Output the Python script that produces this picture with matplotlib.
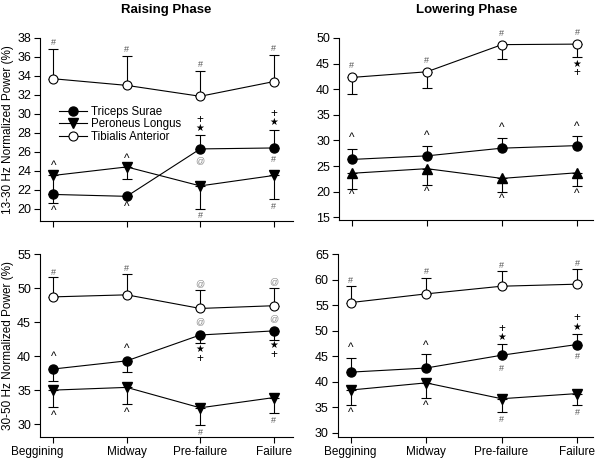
import numpy as np
import matplotlib
matplotlib.use("Agg")
from matplotlib import pyplot as plt
from matplotlib.transforms import ScaledTranslation

plt.rcParams['font.family'] = ['Liberation Sans', 'DejaVu Sans']

phases = ["Beggining", "Midway", "Pre-failure", "Failure"]
x = np.arange(len(phases))

# 13-30 Hz, raising phase
ts_a = [21.5, 21.3, 26.3, 26.4]
ts_a_lo = [0, 0, 0, 0]
ts_a_hi = [0, 0, 1.5, 1.9]
pl_a = [23.5, 24.4, 22.4, 23.5]
pl_a_lo = [2.9, 1.3, 2.4, 2.5]
pl_a_hi = [0, 0, 0, 0]
ta_a = [33.7, 33.0, 31.85, 33.4]
ta_a_lo = [0, 0, 0, 0]
ta_a_hi = [3.1, 3.1, 2.65, 2.8]

# 13-30 Hz, lowering phase
ts_b = [26.3, 27.0, 28.5, 29.0]
ts_b_lo = [0, 0, 0, 0]
ts_b_hi = [2.1, 1.9, 1.9, 1.8]
pl_b = [23.6, 24.5, 22.6, 23.7]
pl_b_lo = [3.0, 3.1, 2.6, 2.6]
pl_b_hi = [0, 0, 0, 0]
ta_b = [42.3, 43.4, 48.7, 48.8]
ta_b_lo = [3.3, 3.1, 2.9, 2.6]
ta_b_hi = [0, 0, 0, 0]

# 30-50 Hz, raising phase
ts_c = [38.1, 39.3, 43.1, 43.7]
ts_c_lo = [1.7, 1.7, 1.2, 1.3]
ts_c_hi = [0, 0, 0, 0]
pl_c = [35.0, 35.4, 32.4, 33.9]
pl_c_lo = [2.5, 2.5, 2.5, 2.3]
pl_c_hi = [0, 0, 0, 0]
ta_c = [48.7, 49.0, 47.0, 47.4]
ta_c_lo = [0, 0, 0, 0]
ta_c_hi = [2.9, 3.1, 2.7, 2.6]

# 30-50 Hz, lowering phase
ts_d = [41.9, 42.7, 45.2, 47.3]
ts_d_lo = [0, 0, 0, 0]
ts_d_hi = [2.8, 2.7, 2.2, 2.1]
pl_d = [38.4, 39.8, 36.7, 37.7]
pl_d_lo = [2.9, 2.9, 2.5, 2.2]
pl_d_hi = [0, 0, 0, 0]
ta_d = [55.5, 57.2, 58.7, 59.1]
ta_d_lo = [0, 0, 0, 0]
ta_d_hi = [3.2, 3.1, 3.0, 3.0]

# significance marks: (x index, y, symbol)
marks_a = [(0, 37.5, '#'), (1, 36.8, '#'), (2, 35.2, '#'), (3, 36.9, '#'),
           (0, 24.5, '^'), (1, 25.2, '^'), (0, 19.8, '^'), (1, 20.2, '^'),
           (2, 29.4, '+'), (2, 28.5, '★'), (2, 25.1, '@'),
           (3, 30.0, '+'), (3, 29.1, '★'), (3, 25.2, '#'),
           (2, 19.3, '#'), (3, 20.2, '#')]
marks_b = [(0, 44.7, '#'), (1, 45.6, '#'), (2, 50.8, '#'), (3, 51.0, '#'),
           (3, 44.9, '★'), (3, 43.1, '+'),
           (0, 30.5, '^'), (1, 30.9, '^'), (2, 32.4, '^'), (3, 32.6, '^'),
           (0, 19.3, '^'), (1, 19.9, '^'), (2, 18.6, '^'), (3, 19.5, '^')]
marks_c = [(0, 52.3, '#'), (1, 52.8, '#'), (2, 50.7, '@'), (3, 51.0, '@'),
           (0, 39.9, '^'), (1, 41.1, '^'), (2, 45.0, '@'), (3, 45.5, '@'),
           (2, 41.1, '★'), (2, 39.6, '+'), (3, 41.6, '★'), (3, 40.1, '+'),
           (0, 31.2, '^'), (1, 31.7, '^'), (2, 28.8, '#'), (3, 30.5, '#')]
marks_d = [(0, 59.8, '#'), (1, 61.5, '#'), (2, 62.8, '#'), (3, 63.2, '#'),
           (0, 46.6, '^'), (1, 47.0, '^'),
           (2, 48.8, '★'), (2, 50.4, '+'), (2, 42.7, '#'),
           (3, 50.7, '★'), (3, 52.4, '+'), (3, 45.0, '#'),
           (0, 34.0, '^'), (1, 35.2, '^'), (2, 32.7, '#'), (3, 34.0, '#')]

sym_style = {'#': (6.5, '#555555'), '@': (6.5, '#888888'), '^': (8.5, 'black'),
             '★': (7, 'black'), '+': (8.5, 'black')}

fig = plt.figure(figsize=(6, 4.63), dpi=100)
ax_a = fig.add_axes([0.0667, 0.5227, 0.4213, 0.3953])
ax_b = fig.add_axes([0.565, 0.525, 0.423, 0.393])
ax_c = fig.add_axes([0.0667, 0.056, 0.4213, 0.3954])
ax_d = fig.add_axes([0.563, 0.056, 0.425, 0.3954])


def draw(ax, ts, tslo, tshi, pl, pllo, plhi, ta, talo, tahi, pl_marker, marks):
    ekw = dict(fmt='none', ecolor='black', elinewidth=0.8, capsize=3.5, capthick=0.8)
    ax.errorbar(x, ta, yerr=[talo, tahi], zorder=2, **ekw)
    ax.errorbar(x, ts, yerr=[tslo, tshi], zorder=2, **ekw)
    ax.errorbar(x, pl, yerr=[pllo, plhi], zorder=2, **ekw)
    l1, = ax.plot(x, ts, '-', color='black', lw=0.8, marker='o', ms=6.5,
                  mfc='black', mec='black', zorder=3, label='Triceps Surae')
    l2, = ax.plot(x, pl, '-', color='black', lw=0.8, marker=pl_marker, ms=7,
                  mfc='black', mec='black', zorder=3, label='Peroneus Longus')
    l3, = ax.plot(x, ta, '-', color='black', lw=0.8, marker='o', ms=6.5,
                  mfc='white', mec='black', mew=0.8, zorder=3, label='Tibialis Anterior')
    for xi, yi, s in marks:
        fs, col = sym_style[s]
        ax.text(xi, yi, s, ha='center', va='center', fontsize=fs, color=col,
                family=['Liberation Sans', 'DejaVu Sans'], zorder=4)
    for side in ['top', 'right']:
        ax.spines[side].set_visible(False)
    ax.spines['left'].set_linewidth(0.8)
    ax.spines['bottom'].set_linewidth(0.8)
    ax.tick_params(direction='out', length=4, width=0.8, labelsize=9, pad=2.5)
    ax.set_xticks(x)
    return l1, l2, l3


l1, l2, l3 = draw(ax_a, ts_a, ts_a_lo, ts_a_hi, pl_a, pl_a_lo, pl_a_hi,
                  ta_a, ta_a_lo, ta_a_hi, 'v', marks_a)
draw(ax_b, ts_b, ts_b_lo, ts_b_hi, pl_b, pl_b_lo, pl_b_hi,
     ta_b, ta_b_lo, ta_b_hi, '^', marks_b)
draw(ax_c, ts_c, ts_c_lo, ts_c_hi, pl_c, pl_c_lo, pl_c_hi,
     ta_c, ta_c_lo, ta_c_hi, 'v', marks_c)
draw(ax_d, ts_d, ts_d_lo, ts_d_hi, pl_d, pl_d_lo, pl_d_hi,
     ta_d, ta_d_lo, ta_d_hi, 'v', marks_d)

ax_a.set_xlim(-0.18, 3.26)
ax_c.set_xlim(-0.18, 3.26)
ax_b.set_xlim(-0.17, 3.21)
ax_d.set_xlim(-0.17, 3.21)

ax_a.set_ylim(18.7, 38)
ax_a.set_yticks(np.arange(20, 39, 2))
ax_b.set_ylim(14.5, 50)
ax_b.set_yticks(np.arange(15, 51, 5))
ax_c.set_ylim(28.1, 55)
ax_c.set_yticks(np.arange(30, 56, 5))
ax_d.set_ylim(29.2, 65)
ax_d.set_yticks(np.arange(30, 66, 5))

for ax in [ax_a, ax_b]:
    ax.set_xticklabels([])
for ax in [ax_c, ax_d]:
    ax.set_xticklabels(phases, fontsize=8.5)

# first category label sits further left in the left column
lab0 = ax_c.get_xticklabels()[0]
lab0.set_transform(lab0.get_transform() + ScaledTranslation(-0.16, 0, fig.dpi_scale_trans))

ax_a.set_ylabel("13-30 Hz Normalized Power (%)", fontsize=8.5, labelpad=2)
ax_c.set_ylabel("30-50 Hz Normalized Power (%)", fontsize=8.5, labelpad=2)

ax_a.legend(handles=[l1, l2, l3], loc='upper left', bbox_to_anchor=(0.075, 0.63),
            frameon=False, fontsize=8.3, handlelength=2.4, labelspacing=0.05,
            handletextpad=0.35, borderaxespad=0, borderpad=0)

fig.text(0.277, 0.978, "Raising Phase", ha='center', va='center',
         fontsize=9.5, fontweight='bold')
fig.text(0.778, 0.978, "Lowering Phase", ha='center', va='center',
         fontsize=9.5, fontweight='bold')

plt.savefig('out.png', dpi=100)
